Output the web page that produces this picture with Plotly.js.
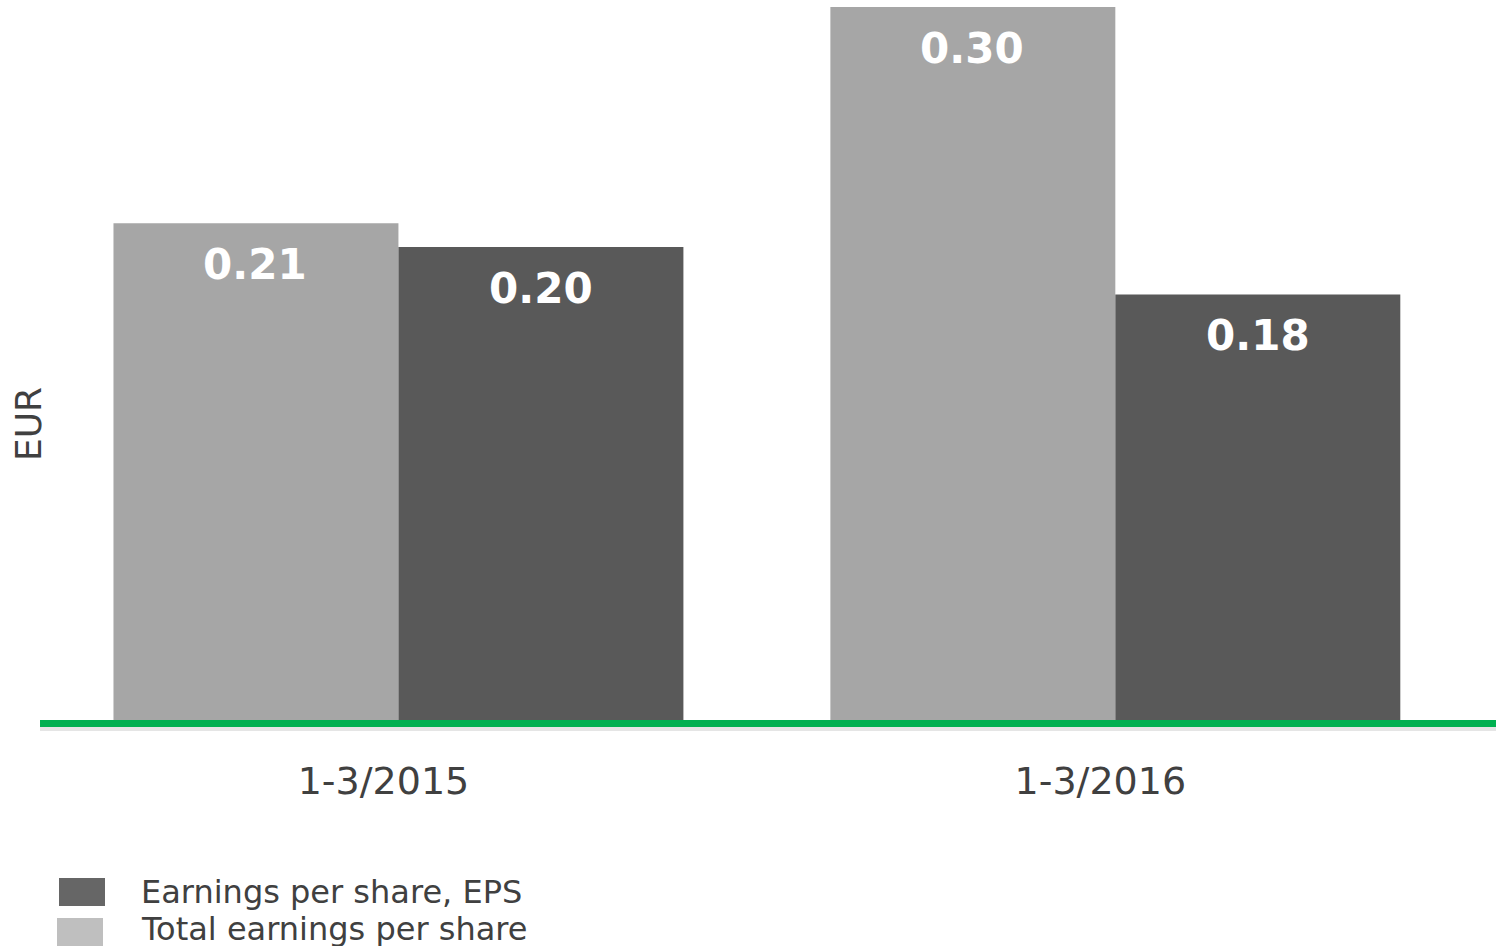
<!DOCTYPE html>
<html>
<head>
<meta charset="utf-8">
<script src="https://cdn.plot.ly/plotly-3.0.1.min.js"></script>
<style>html,body{margin:0;padding:0;background:#fff;}#chart{width:1496px;height:946px;}</style>
</head>
<body>
<div id="chart"></div>
<script>
const categories = ["1-3/2015", "1-3/2016"];
const seriesNames = ["Earnings per share, EPS", "Total earnings per share"];
const totalEPS = [0.209, 0.300];
const eps = [0.199, 0.179];
const yTitle = "EUR";

const W = 1496, H = 946;
const M = {l: 40, r: 0, t: 7, b: 226};
const PW = W - M.l - M.r, PH = H - M.t - M.b;
const px = X => (X - M.l) / PW;
const py = Y => (H - M.b - Y) / PH;

const fontFam = "DejaVu Sans, Verdana, sans-serif";
const textCol = "#404040";
const lightCol = "#a6a6a6", darkCol = "#595959";

const traces = [
  {type: "bar", name: seriesNames[1], x: categories, y: totalEPS, marker: {color: lightCol}, hoverinfo: "none", showlegend: false},
  {type: "bar", name: seriesNames[0], x: categories, y: eps, marker: {color: darkCol}, hoverinfo: "none", showlegend: false}
];

const annotations = [];
categories.forEach((c, i) => {
  annotations.push({x: c, y: totalEPS[i], xref: "x", yref: "y", xshift: -143, yshift: -41, yanchor: "middle",
    text: totalEPS[i].toFixed(2), showarrow: false, font: {family: fontFam, size: 42, color: "#ffffff", weight: "bold"}});
  annotations.push({x: c, y: eps[i], xref: "x", yref: "y", xshift: 143, yshift: -41, yanchor: "middle",
    text: eps[i].toFixed(2), showarrow: false, font: {family: fontFam, size: 42, color: "#ffffff", weight: "bold"}});
});
annotations.push({x: px(28), y: py(424), xref: "paper", yref: "paper", xanchor: "center", yanchor: "middle", text: yTitle, textangle: -90, showarrow: false,
  font: {family: fontFam, size: 36, color: textCol}});
// legend
annotations.push({x: px(139), y: py(892), xref: "paper", yref: "paper", xanchor: "left", yanchor: "middle", text: seriesNames[0], showarrow: false,
  font: {family: fontFam, size: 32, color: textCol}});
annotations.push({x: px(139), y: py(929), xref: "paper", yref: "paper", xanchor: "left", yanchor: "middle", text: seriesNames[1], showarrow: false,
  font: {family: fontFam, size: 32, color: textCol}});

const shapes = [
  {type: "rect", xref: "paper", yref: "paper", x0: 0, x1: 1, y0: py(727), y1: py(731), line: {width: 0}, fillcolor: "rgba(0,0,0,0.10)", layer: "above"},
  {type: "rect", xref: "paper", yref: "paper", x0: 0, x1: 1, y0: py(720), y1: py(727), line: {width: 0}, fillcolor: "#00b050", layer: "above"},
  {type: "rect", xref: "paper", yref: "paper", x0: px(59), x1: px(105), y0: py(878), y1: py(906), line: {width: 0}, fillcolor: "#666666"},
  {type: "rect", xref: "paper", yref: "paper", x0: px(57), x1: px(103), y0: py(918), y1: py(948), line: {width: 0}, fillcolor: "#bfbfbf"}
];

const layout = {
  width: W, height: H,
  margin: M,
  paper_bgcolor: "#ffffff", plot_bgcolor: "#ffffff",
  barmode: "group", bargap: 0.205, bargroupgap: 0,
  showlegend: false,
  xaxis: {type: "category", range: [-0.5, 1.531], showgrid: false, zeroline: false, showline: false, ticks: "",
    tickfont: {family: fontFam, size: 38, color: textCol}, ticklabelstandoff: 35, ticklabelshift: -15, fixedrange: true},
  yaxis: {range: [0, 0.30], showgrid: false, zeroline: false, showline: false, showticklabels: false, ticks: "", fixedrange: true},
  annotations: annotations,
  shapes: shapes
};

Plotly.newPlot("chart", traces, layout, {displayModeBar: false, staticPlot: true});
</script>
</body>
</html>
